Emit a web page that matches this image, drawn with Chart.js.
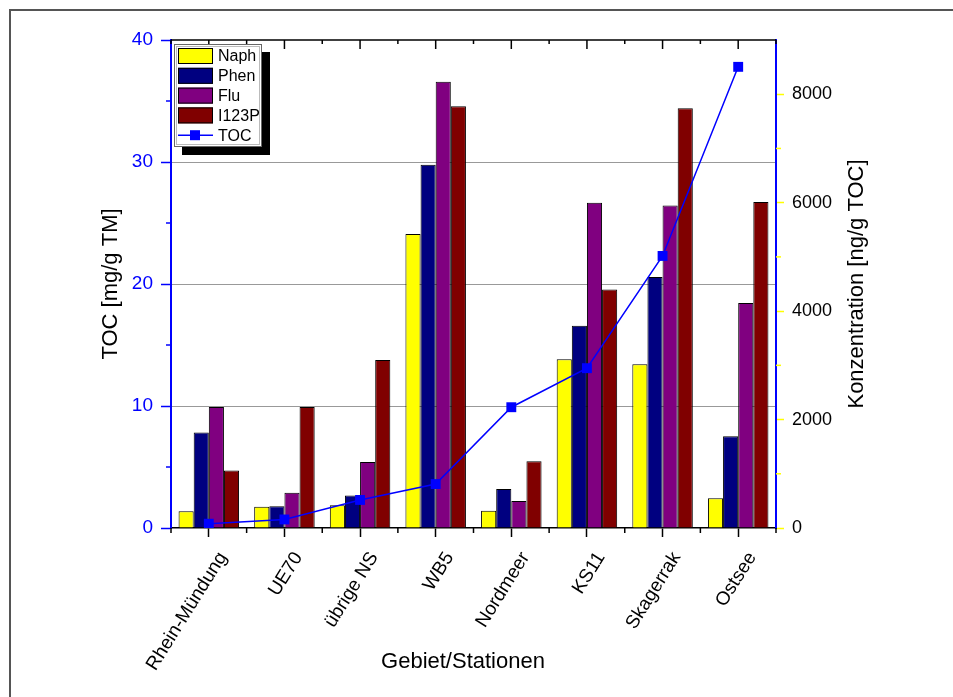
<!DOCTYPE html>
<html>
<head>
<meta charset="utf-8">
<script src="https://cdn.jsdelivr.net/npm/chart.js@4.4.1/dist/chart.umd.min.js"></script>
<style>
  body { margin: 0; background: #fff; }
</style>
</head>
<body>
<canvas id="chart" width="953" height="697"></canvas>
<script>
// stations and values
const stations = ['Rhein-Mündung', 'UE70', 'übrige NS', 'WB5', 'Nordmeer', 'KS11', 'Skagerrak', 'Ostsee']
// ng/g TOC (right axis)
const naph  = [310, 390, 420, 5420, 320, 3110, 3020, 550]
const phen  = [1760, 400, 600, 6700, 720, 3730, 4630, 1690]
const flu   = [2230, 650, 1215, 8230, 500, 6000, 5950, 4150]
const i123p = [1060, 2230, 3100, 7780, 1230, 4400, 7740, 6010]
// mg/g TM (left axis)
const toc   = [0.35, 0.7, 2.3, 3.6, 9.9, 13.1, 22.3, 37.8]

const leftTicks = [0, 10, 20, 30, 40]
const rightTicks = [0, 2000, 4000, 6000, 8000]

const FONT = "'Liberation Sans', Arial, sans-serif"

// frame, top axis, minor ticks, axis titles, legend
const decorations = {
    id: 'decorations',
    afterDraw(chart) {
        const ctx = chart.ctx
        const a = chart.chartArea
        const yL = chart.scales.y, yR = chart.scales.y1
        ctx.save()
        // outer frame (left and top only, picture is cropped)
        ctx.strokeStyle = '#555'
        ctx.lineWidth = 2
        ctx.beginPath()
        ctx.moveTo(10, 697); ctx.lineTo(10, 10); ctx.lineTo(953, 10)
        ctx.stroke()

        // top axis line
        ctx.strokeStyle = '#000'
        ctx.lineWidth = 1.5
        ctx.beginPath()
        ctx.moveTo(a.left, a.top); ctx.lineTo(a.right, a.top)
        ctx.stroke()
        const step = (a.right - a.left) / stations.length
        for (let i = 0; i <= stations.length; i++) {
            let x = a.left + i * step
            ctx.beginPath(); ctx.moveTo(x, a.top); ctx.lineTo(x, a.top + 4); ctx.stroke()
            ctx.beginPath(); ctx.moveTo(x, a.bottom); ctx.lineTo(x, a.bottom + 5); ctx.stroke()
            if (i < stations.length) {
                let xc = x + step / 2
                ctx.beginPath(); ctx.moveTo(xc, a.top); ctx.lineTo(xc, a.top + 9); ctx.stroke()
            }
        }
        // minor ticks left
        ctx.strokeStyle = '#0000ff'
        for (let v = 5; v < 40; v += 10) {
            let y = yL.getPixelForValue(v)
            ctx.beginPath(); ctx.moveTo(a.left - 5, y); ctx.lineTo(a.left, y); ctx.stroke()
        }
        // minor ticks right
        ctx.strokeStyle = '#ffff00'
        for (let v = 1000; v < 9000; v += 2000) {
            let y = yR.getPixelForValue(v)
            ctx.beginPath(); ctx.moveTo(a.right, y); ctx.lineTo(a.right + 5, y); ctx.stroke()
        }

        // axis titles
        ctx.fillStyle = '#000'
        ctx.font = '22px ' + FONT
        ctx.textAlign = 'center'
        ctx.textBaseline = 'middle'
        ctx.fillText('Gebiet/Stationen', 463, 662)
        ctx.save()
        ctx.translate(111, (a.top + a.bottom) / 2)
        ctx.rotate(-Math.PI / 2)
        ctx.fillText('TOC [mg/g TM]', 0, 0)
        ctx.restore()
        ctx.save()
        ctx.translate(857, (a.top + a.bottom) / 2)
        ctx.rotate(-Math.PI / 2)
        ctx.fillText('Konzentration [ng/g TOC]', 0, 0)
        ctx.restore()

        // legend with drop shadow
        const lx = 174, ly = 44, lw = 88, lh = 103
        ctx.fillStyle = '#000'
        ctx.fillRect(lx + 8, ly + 8, lw, lh)
        ctx.fillStyle = '#fff'
        ctx.fillRect(lx, ly, lw, lh)
        ctx.strokeStyle = '#666'
        ctx.lineWidth = 1
        ctx.strokeRect(lx + 0.5, ly + 0.5, lw - 1, lh - 1)
        ctx.strokeStyle = '#bbb'
        ctx.strokeRect(lx + 2.5, ly + 2.5, lw - 5, lh - 5)
        ctx.font = '16px ' + FONT
        ctx.textAlign = 'left'
        const ordered = chart.data.datasets.slice().sort((p, q) => p.legendRank - q.legendRank)
        ordered.forEach((ds, i) => {
            let cy = ly + 12 + i * 19.8
            if (ds.type === 'line') {
                ctx.strokeStyle = ds.borderColor
                ctx.lineWidth = 1.5
                ctx.beginPath(); ctx.moveTo(lx + 4, cy); ctx.lineTo(lx + 39, cy); ctx.stroke()
                ctx.fillStyle = ds.pointBackgroundColor
                ctx.fillRect(lx + 16, cy - 5, 10, 10)
            } else {
                ctx.fillStyle = ds.backgroundColor
                ctx.fillRect(lx + 4, cy - 8, 35, 16)
                ctx.strokeStyle = '#000'
                ctx.lineWidth = 1
                ctx.strokeRect(lx + 4.5, cy - 7.5, 34, 15)
            }
            ctx.fillStyle = '#000'
            ctx.fillText(ds.label, lx + 44, cy + 1)
        })
        ctx.restore()
    }
}

function barSet(label, values, color, rank) {
    return {
        type: 'bar',
        label: label,
        data: values,
        yAxisID: 'y1',
        backgroundColor: color,
        borderColor: '#000',
        borderWidth: 1,
        barPercentage: 1.0,
        categoryPercentage: 0.8,
        order: 1,
        legendRank: rank
    }
}

const chart = new Chart(document.getElementById('chart'), {
    data: {
        labels: stations,
        datasets: [
            barSet('Naph', naph, '#ffff00', 0),
            barSet('Phen', phen, '#000080', 1),
            barSet('Flu', flu, '#800080', 2),
            barSet('I123P', i123p, '#800000', 3),
            {
                type: 'line',
                label: 'TOC',
                data: toc,
                yAxisID: 'y',
                borderColor: '#0000ff',
                borderWidth: 1.5,
                pointStyle: 'rect',
                pointRadius: 7,
                pointBackgroundColor: '#0000ff',
                pointBorderColor: '#0000ff',
                pointBorderWidth: 0,
                tension: 0,
                order: 0,
                legendRank: 4
            }
        ]
    },
    options: {
        responsive: false,
        animation: false,
        layout: { padding: { top: 40, left: 0, right: 0, bottom: 0 } },
        plugins: {
            legend: { display: false },
            tooltip: { enabled: false }
        },
        scales: {
            x: {
                type: 'category',
                offset: true,
                afterFit: (s) => { s.height = 169 },
                grid: { drawOnChartArea: false, offset: false, tickLength: 9, tickColor: '#000', tickWidth: 1.5 },
                border: { color: '#000', width: 1.5 },
                ticks: {
                    autoSkip: false,
                    minRotation: 58,
                    maxRotation: 58,
                    padding: 11,
                    labelOffset: 14,
                    color: '#000',
                    font: { family: FONT, size: 19 }
                }
            },
            y: {
                position: 'left',
                min: 0,
                max: 40,
                afterFit: (s) => { s.width = 171 },
                afterBuildTicks: (s) => { s.ticks = leftTicks.map(v => ({ value: v })) },
                grid: {
                    color: (c) => (c.tick && c.tick.value > 0 && c.tick.value < 40) ? '#999' : 'rgba(0,0,0,0)',
                    lineWidth: 1,
                    tickLength: 10,
                    tickColor: '#0000ff',
                    tickWidth: 1.5
                },
                border: { color: '#0000ff', width: 2 },
                ticks: { color: '#0000ff', padding: 8, font: { family: FONT, size: 19 } }
            },
            y1: {
                position: 'right',
                min: 0,
                max: 9000,
                afterFit: (s) => { s.width = 177 },
                afterBuildTicks: (s) => { s.ticks = rightTicks.map(v => ({ value: v })) },
                grid: { drawOnChartArea: false, tickLength: 8, tickColor: '#ffff00', tickWidth: 1.5 },
                border: { color: '#0000ff', width: 2 },
                ticks: {
                    color: '#000',
                    padding: 8,
                    font: { family: FONT, size: 18 },
                    callback: (v) => String(v)
                }
            }
        }
    },
    plugins: [decorations]
})
</script>
</body>
</html>
